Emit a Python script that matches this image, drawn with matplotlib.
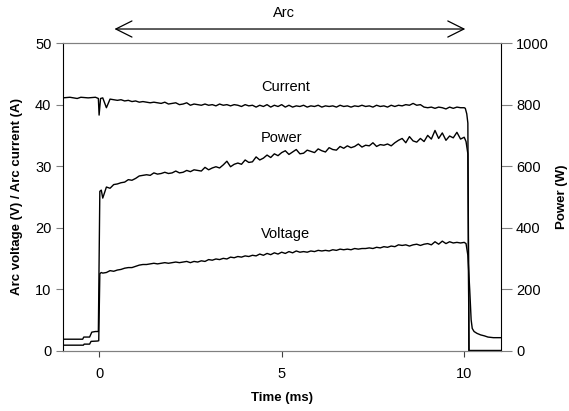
import numpy as np
import matplotlib
matplotlib.use('Agg')
import matplotlib.pyplot as plt

plt.rcParams['font.family'] = ['Liberation Sans', 'DejaVu Sans']

# sample times during the arc (ms)
arc_t = np.round(np.arange(0.1, 10.01, 0.1), 2)

# arc voltage (V)
volt_pre_t = [-1.0, -0.43, -0.41, -0.26, -0.22, -0.05, -0.01, 0.02, 0.06]
volt_pre = [0.88, 0.88, 1.05, 1.05, 1.5, 1.55, 1.6, 12.5, 12.7]
volt_arc = [12.6, 12.7, 13.0, 12.9, 13.1, 13.2, 13.4, 13.5, 13.5, 13.7,
            13.9, 14.0, 14.0, 14.1, 14.2, 14.1, 14.2, 14.3, 14.2, 14.3,
            14.4, 14.3, 14.4, 14.5, 14.3, 14.5, 14.4, 14.6, 14.5, 14.8,
            14.7, 14.9, 14.8, 15.0, 14.9, 15.2, 15.1, 15.3, 15.2, 15.4,
            15.3, 15.5, 15.4, 15.7, 15.5, 15.8, 15.6, 15.9, 15.7, 16.0,
            15.8, 16.1, 15.9, 16.2, 16.0, 16.1, 16.0, 16.2, 16.1, 16.3,
            16.2, 16.3, 16.2, 16.4, 16.3, 16.5, 16.4, 16.5, 16.4, 16.6,
            16.5, 16.6, 16.6, 16.7, 16.6, 16.8, 16.7, 16.9, 16.8, 17.0,
            16.9, 17.2, 17.1, 17.2, 17.0, 17.2, 17.3, 17.1, 17.3, 17.4,
            17.2, 17.7, 17.3, 17.8, 17.4, 17.7, 17.5, 17.6, 17.5, 17.6]
volt_post_t = [10.05, 10.1, 10.15, 10.19, 10.22, 10.27, 10.35, 10.45, 10.55, 10.65, 10.8, 11.0]
volt_post = [17.4, 15.5, 10.0, 5.0, 3.6, 3.1, 2.8, 2.55, 2.4, 2.2, 2.1, 2.1]

# arc current (A)
curr_pre_t = [-1.0, -0.8, -0.6, -0.5, -0.3, -0.1, -0.02, 0.0, 0.04]
curr_pre = [41.1, 41.2, 41.0, 41.2, 41.1, 41.2, 41.0, 38.3, 41.0]
curr_arc = [41.1, 39.5, 40.9, 40.8, 40.7, 40.8, 40.6, 40.7, 40.5, 40.6,
            40.4, 40.5, 40.4, 40.3, 40.4, 40.3, 40.2, 40.4, 40.1, 40.2,
            40.3, 40.0, 40.1, 40.3, 39.9, 40.1, 40.0, 39.9, 40.1, 39.9,
            40.0, 39.8, 40.1, 39.9, 40.0, 39.8, 40.0, 39.9, 39.7, 40.0,
            39.8, 39.9, 39.6, 39.9, 39.7, 40.0, 39.6, 39.9, 39.7, 40.0,
            39.6, 39.9, 39.6, 39.8, 39.7, 39.9, 39.6, 39.8, 39.7, 39.9,
            39.6, 39.8, 39.7, 39.8, 39.6, 39.9, 39.7, 39.8, 39.6, 39.8,
            39.7, 39.9, 39.7, 39.8, 39.6, 39.9, 39.7, 39.8, 39.6, 39.9,
            39.7, 39.9, 39.8, 40.0, 39.9, 40.2, 39.9, 40.0, 39.6, 39.5,
            39.6, 39.4, 39.6, 39.5, 39.3, 39.6, 39.4, 39.6, 39.5, 39.5]
curr_post_t = [10.03, 10.07, 10.1, 10.13, 11.0]
curr_post = [39.4, 38.5, 37.0, 0.0, 0.0]

# power (W)
pow_pre_t = [-1.0, -0.45, -0.42, -0.26, -0.2, -0.1, -0.02, 0.02, 0.06]
pow_pre = [37, 37, 44, 44, 60, 62, 62, 518, 522]
pow_arc = [496, 532, 528, 540, 542, 546, 548, 556, 554, 560,
           568, 570, 572, 570, 578, 574, 576, 580, 576, 578,
           584, 578, 580, 586, 582, 588, 586, 584, 596, 588,
           594, 598, 594, 604, 616, 598, 606, 610, 606, 620,
           612, 614, 630, 620, 626, 636, 628, 640, 634, 644,
           650, 638, 646, 654, 640, 642, 652, 648, 644, 656,
           650, 646, 660, 654, 652, 664, 658, 666, 660, 664,
           672, 662, 668, 666, 676, 664, 670, 668, 672, 666,
           676, 684, 690, 676, 696, 682, 678, 690, 680, 700,
           688, 716, 690, 708, 684, 698, 692, 710, 688, 694]
pow_post_t = [10.05, 10.1, 10.13, 11.0]
pow_post = [680, 640, 0, 0]

t_volt = np.concatenate([volt_pre_t, arc_t, volt_post_t])
v = np.concatenate([volt_pre, volt_arc, volt_post])
t_curr = np.concatenate([curr_pre_t, arc_t, curr_post_t])
i = np.concatenate([curr_pre, curr_arc, curr_post])
t_pow = np.concatenate([pow_pre_t, arc_t, pow_post_t])
p = np.concatenate([pow_pre, pow_arc, pow_post])

fig = plt.figure(figsize=(5.69, 4.11), dpi=100)
ax = fig.add_axes([0.110, 0.147, 0.770, 0.748])
ax2 = ax.twinx()

ax.plot(t_volt, v, color='black', lw=1.0)
ax.plot(t_curr, i, color='black', lw=1.0)
ax2.plot(t_pow, p, color='black', lw=1.0)

ax.set_xlim(-1, 11)
ax.set_ylim(0, 50)
ax2.set_ylim(0, 1000)
ax.set_xticks([0, 5, 10])
ax.set_yticks([0, 10, 20, 30, 40, 50])
ax2.set_yticks([0, 200, 400, 600, 800, 1000])

grey = '#808080'
for a in (ax, ax2):
    a.spines['top'].set_color(grey)
    a.spines['bottom'].set_color(grey)
ax.spines['right'].set_visible(False)
ax2.spines['left'].set_visible(False)
ax.spines['left'].set_color('black')
ax2.spines['right'].set_color('black')

ax.tick_params(axis='x', direction='out', length=4, color='#404040', labelsize=10.5, pad=8)
ax.tick_params(axis='y', direction='out', length=5, color=grey, labelsize=10.5, pad=3)
ax2.tick_params(axis='y', direction='out', length=8, color=grey, labelsize=10.5, pad=3)

ax.set_xlabel('Time (ms)', fontweight='bold', fontsize=9.5, labelpad=8)
ax.set_ylabel('Arc voltage (V) / Arc current (A)', fontweight='bold', fontsize=9.5, labelpad=9)
ax2.set_ylabel('Power (W)', fontweight='bold', fontsize=9.5, labelpad=5)

ax.text(5.1, 42.9, 'Current', ha='center', va='center', fontsize=10.5)
ax.text(5.0, 34.6, 'Power', ha='center', va='center', fontsize=10.5)
ax.text(5.1, 18.9, 'Voltage', ha='center', va='center', fontsize=10.5)

ax.annotate('', xy=(0.42, 52.3), xytext=(10.03, 52.3), xycoords='data',
            arrowprops=dict(arrowstyle='<->', lw=0.9, color='black', mutation_scale=29,
                            shrinkA=0, shrinkB=0),
            annotation_clip=False)
ax.text(5.05, 54.9, 'Arc', ha='center', va='center', fontsize=10.5, clip_on=False)

fig.savefig('out.png', dpi=100)
